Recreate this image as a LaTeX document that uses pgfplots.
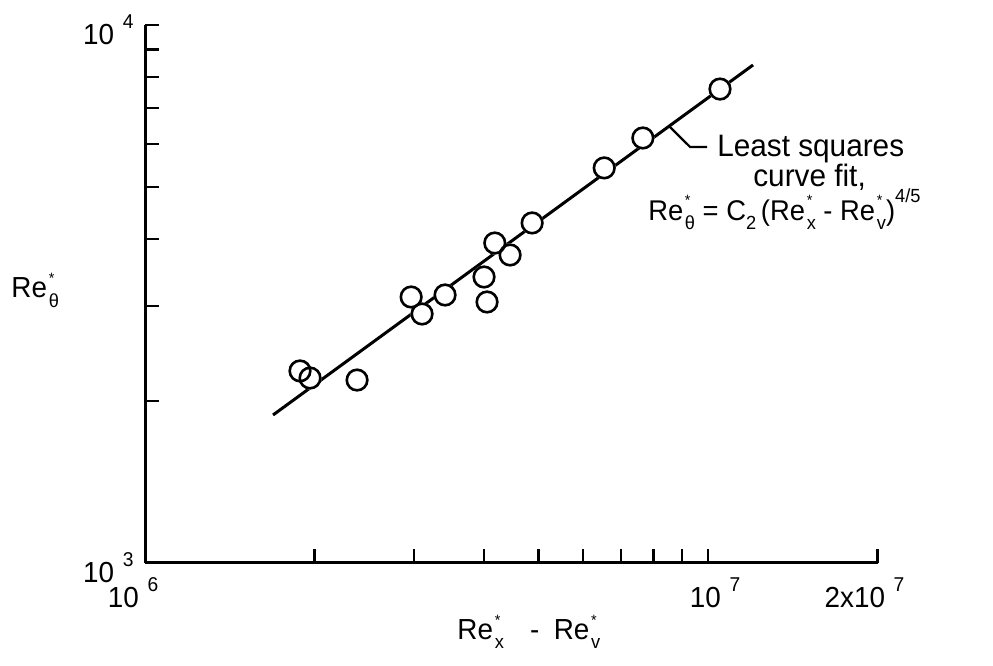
\documentclass[border=0pt]{standalone}
\usepackage{pgfplots}
\pgfplotsset{compat=1.18}
\usepackage{pgfplotstable}
\usepackage{fontspec}
\setmainfont{Liberation Sans}[FakeStretch=0.96]
\newcommand{\fs}[1]{\fontsize{#1bp}{#1bp}\selectfont}
\newcommand{\tp}[1]{10\hspace{0.3em}\raisebox{0.55em}{\fs{20}#1}}
\newcommand{\ReS}[1]{Re\kern0.06em\rlap{\raisebox{0.5em}{\fs{15}*}}\raisebox{-0.32em}{\fs{19}#1}}

\pgfplotstableread{
x y
1.885e6 2275
1.964e6 2207
2.380e6 2188
2.969e6 3122
3.105e6 2903
3.411e6 3149
4.00e6 3401
4.05e6 3056
4.18e6 3934
4.45e6 3737
4.87e6 4286
6.54e6 5424
7.66e6 6166
1.05e7 7603
}\datatable

\pgfplotstableread{
x y
1.688e6 1884
1.202e7 8427
}\fitline

\pgfplotstableread{
x y
8.52e6 6492
9.29e6 5932
9.96e6 5932
}\leader

\begin{document}
\begin{tikzpicture}
\path[use as bounding box] (0,0) rectangle (993bp,666bp);
\begin{axis}[
  at={(145bp,103bp)}, anchor=south west,
  scale only axis, width=732.5bp, height=538bp,
  xmode=log, ymode=log,
  xmin=1e6, xmax=2e7, ymin=1e3, ymax=1e4,
  axis x line*=bottom, axis y line*=left,
  axis line style={line width=3bp, black},
  clip=false,
  xtick={1e6,1e7,2e7},
  xticklabels={\hspace*{-24bp}\tp{6},\hspace*{14bp}\tp{7},\hspace*{-26bp}2x\tp{7}},
  minor xtick={2e6,3e6,4e6,5e6,6e6,7e6,8e6,9e6},
  ytick={1e3,1e4},
  yticklabels={\tp{3},\tp{4}},
  minor ytick={2e3,3e3,4e3,5e3,6e3,7e3,8e3,9e3},
  tick align=inside,
  major tick length=14bp, minor tick length=14bp,
  every tick/.style={line width=2.2bp, black},
  every minor tick/.style={line width=2.2bp, black},
  tick label style={font=\fs{29}},
  xticklabel style={yshift=-11bp},
  yticklabel style={xshift=-8bp, yshift=-5bp},
  every axis x label/.style={at={(axis description cs:0.524,-0.128)}, anchor=center, font=\fs{29}},
  every axis y label/.style={at={(axis description cs:-0.150,0.507)}, anchor=center, font=\fs{29}},
  xlabel={\ReS{x}\hspace{0.9em}-\hspace{0.5em}\ReS{v}},
  ylabel={\ReS{θ}},
]
\addplot[line width=3bp, black] table {\fitline};
\addplot[line width=2.2bp, black] table {\leader};
\addplot[only marks, mark=*, mark size=10.3bp, mark options={fill=white, draw=white, line width=2.6bp}] table {\datatable};
\addplot[only marks, mark=o, mark size=10.3bp, mark options={draw=black, line width=2.6bp}] table {\datatable};
\node[anchor=base west, font=\fs{31}, inner sep=0pt] at (axis cs:1.0375e7,5684) {Least squares};
\node[anchor=base west, font=\fs{31}, inner sep=0pt] at (axis cs:1.2024e7,4999) {curve fit,};
\node[anchor=base west, font=\fs{28.5}, inner sep=0pt] at (axis cs:7.826e6,4340)
  {\ReS{θ} = C\raisebox{-0.32em}{\fs{19}2}\,(\ReS{x} - \ReS{v})\raisebox{0.6em}{\fs{19}4/5}};
\end{axis}
\end{tikzpicture}
\end{document}
